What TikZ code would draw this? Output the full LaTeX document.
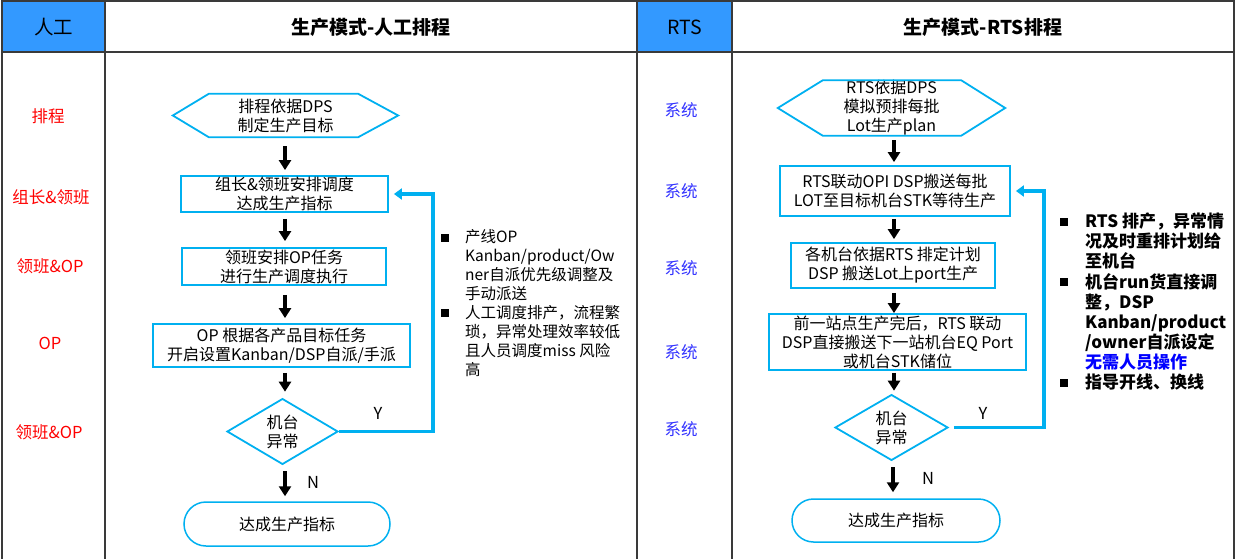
\documentclass[tikz,border=0pt]{standalone}
\usepackage{fontspec}
\setmainfont{Noto Sans CJK SC}
\usetikzlibrary{shapes.geometric,shapes.misc,arrows.meta,calc}
\definecolor{hdrblue}{HTML}{3399FF}
\definecolor{shpblue}{HTML}{00B0F0}
\definecolor{gridgray}{HTML}{3A3A3A}
\definecolor{sysblue}{HTML}{3333FF}
\definecolor{emphblue}{HTML}{0000FF}
\begin{document}
\begin{tikzpicture}[x=1pt,y=-1pt,
  grid/.style={draw=gridgray,line width=2.5pt},
  flowtxt/.style={font=\fontsize{16}{19}\selectfont,align=center,inner sep=0pt},
  procbox/.style={flowtxt,draw=shpblue,line width=1.8pt,rectangle},
  decbox/.style={flowtxt,draw=shpblue,line width=1.8pt,diamond},
  endbox/.style={flowtxt,draw=shpblue,line width=1.5pt,rounded rectangle},
  hexline/.style={draw=shpblue,line width=1.8pt},
  flowarrow/.style={-{Triangle[length=10pt,width=12pt]},line width=3.2pt,black},
  backarrow/.style={-{Triangle[length=8pt,width=11pt]},line width=3.5pt,shpblue},
  lefttag/.style={text=red,font=\fontsize{16.5}{19}\selectfont},
  systag/.style={text=sysblue,font=\fontsize{16.5}{19}\selectfont},
  yn/.style={font=\fontsize{16.5}{19}\selectfont},
  bulletsq/.style={fill=black,inner sep=0pt,minimum size=8.5pt},
  notetxt/.style={font=\fontsize{15.5}{19}\selectfont,align=left,anchor=north west,inner sep=0pt},
  boldnote/.style={font=\fontsize{17}{20}\selectfont\bfseries,align=left,anchor=north west,inner sep=0pt},
  hdrtxt/.style={font=\fontsize{19.5}{22}\selectfont},
  titletxt/.style={font=\fontsize{19}{22}\selectfont\bfseries}
]
\useasboundingbox (0,0) rectangle (1236,559);
% table
\fill[hdrblue] (2,1) rectangle (105,52);
\fill[hdrblue] (637,1) rectangle (732,52);
\draw[grid] (2,1.2) -- (1234,1.2);
\draw[grid] (2,52) -- (1234,52);
\foreach \xx in {2,105,637,732,1234} \draw[grid] (\xx,0) -- (\xx,559);
\node[hdrtxt] (hL) at (53.5,27) {人工};
\node[titletxt] (tL) at (371,27) {生产模式-人工排程};
\node[hdrtxt] (hR) at (684.5,27) {RTS};
\node[titletxt] (tR) at (983,27) {生产模式-RTS排程};
% left tags
\node[lefttag] (lt1) at (48,116) {排程};
\node[lefttag] (lt2) at (51,197) {组长\&领班};
\node[lefttag] (lt3) at (50,266) {领班\&OP};
\node[lefttag] (lt4) at (50,343) {OP};
\node[lefttag] (lt5) at (49,432) {领班\&OP};
% right tags
\node[systag] (st1) at (681,110) {系统};
\node[systag] (st2) at (681,191) {系统};
\node[systag] (st3) at (681,268) {系统};
\node[systag] (st4) at (681,352) {系统};
\node[systag] (st5) at (681,429) {系统};
% left flow
\node[flowtxt,minimum width=225pt,minimum height=43pt] (L1) at (285.5,115.5) {排程依据DPS\\制定生产目标};
\draw[hexline] (L1.west) -- ($(L1.north west)+(36,0)$) -- ($(L1.north east)+(-40,0)$) -- (L1.east) -- ($(L1.south east)+(-40,0)$) -- ($(L1.south west)+(36,0)$) -- cycle;
\node[procbox,minimum width=207pt,minimum height=36pt] (L2) at (284.5,194) {组长\&领班安排调度\\达成生产指标};
\node[procbox,minimum width=204pt,minimum height=37pt] (L3) at (284,266.5) {领班安排OP任务\\进行生产调度执行};
\node[procbox,minimum width=257pt,minimum height=43pt] (L4) at (281.5,345.5) {OP 根据各产品目标任务\\开启设置Kanban/DSP自派/手派};
\node[decbox,minimum width=111pt,minimum height=59pt] (L5) at (282.5,431.5) {机台\\异常};
\node[endbox,minimum width=206pt,minimum height=44pt] (L6) at (287,524) {达成生产指标};
\draw[flowarrow,shorten <=9pt,shorten >=5pt] (285,137) -- (L2.north -| 285,0);
\draw[flowarrow,shorten <=6pt,shorten >=6pt] (L2.south -| 285,0) -- (L3.north -| 285,0);
\draw[flowarrow,shorten <=9pt,shorten >=5pt] (L3.south -| 285,0) -- (L4.north -| 285,0);
\draw[flowarrow,shorten <=5pt,shorten >=6pt] (L4.south -| 285,0) -- (L5.north -| 285,0);
\draw[flowarrow,shorten <=6pt,shorten >=5pt] (L5.south -| 285,0) -- (L6.north -| 285,0);
\coordinate (LX) at (433,300);
\draw[backarrow,shorten >=5pt] (L5.east) -- (L5.east -| LX) |- (L2.east);
\node[yn] (Ly) at (378,413) {Y};
\node[yn] (Ln) at (313,482) {N};
% left notes
\node[bulletsq] (lb1) at (445,238) {};
\node[bulletsq] (lb2) at (445,313) {};
\node[notetxt] (ln1) at (465,229) {产线OP\\Kanban/product/Ow\\ner自派优先级调整及\\手动派送};
\node[notetxt] (ln2) at (465,305) {人工调度排产，流程繁\\琐，异常处理效率较低\\且人员调度miss 风险\\高};
% right flow
\node[flowtxt,minimum width=227pt,minimum height=52pt] (R1) at (891.5,108) {RTS依据DPS\\模拟预排每批\\Lot生产plan};
\draw[hexline] (R1.west) -- ($(R1.north west)+(45,0)$) -- ($(R1.north east)+(-44,0)$) -- (R1.east) -- ($(R1.south east)+(-44,0)$) -- ($(R1.south west)+(45,0)$) -- cycle;
\node[procbox,minimum width=230pt,minimum height=50pt] (R2) at (895,191) {RTS联动OPI DSP搬送每批\\LOT至目标机台STK等待生产};
\node[procbox,minimum width=204pt,minimum height=45pt] (R3) at (893,265.5) {各机台依据RTS 排定计划\\DSP 搬送Lot上port生产};
\node[procbox,minimum width=257pt,minimum height=56pt] (R4) at (897.5,342) {前一站点生产完后，RTS 联动\\DSP直接搬送下一站机台EQ Port\\或机台STK储位};
\node[decbox,minimum width=113pt,minimum height=59pt] (R5) at (891.5,427.5) {机台\\异常};
\node[endbox,minimum width=208pt,minimum height=43pt] (R6) at (896,520.5) {达成生产指标};
\draw[flowarrow,shorten <=6pt,shorten >=3pt] (894,134) -- (R2.north -| 894,0);
\draw[flowarrow,shorten <=2pt,shorten >=3pt] (R2.south -| 894,0) -- (R3.north -| 894,0);
\draw[flowarrow,shorten <=4pt,shorten >=0pt] (R3.south -| 894,0) -- (R4.north -| 894,0);
\draw[flowarrow,shorten <=2pt,shorten >=3pt] (R4.south -| 894,0) -- (R5.north -| 894,0);
\draw[flowarrow,shorten <=6pt,shorten >=6pt] (R5.south -| 893,0) -- (R6.north -| 893,0);
\coordinate (RX) at (1044,300);
\draw[backarrow,shorten <=5pt,shorten >=5pt] (R5.east) -- (R5.east -| RX) |- (R2.east);
\node[yn] (Ry) at (983,413) {Y};
\node[yn] (Rn) at (928,478) {N};
% right notes
\node[bulletsq] (rb1) at (1064,222) {};
\node[bulletsq] (rb2) at (1064,282) {};
\node[bulletsq] (rb3) at (1064,383) {};
\node[boldnote] (rn1) at (1085,213) {RTS 排产，异常情\\况及时重排计划给\\至机台};
\node[boldnote] (rn2) at (1085,273) {机台run货直接调\\整，DSP\\Kanban/product\\/owner自派设定\\\textcolor{emphblue}{无需人员操作}};
\node[boldnote] (rn3) at (1085,374) {指导开线、换线};
\end{tikzpicture}
\end{document}
